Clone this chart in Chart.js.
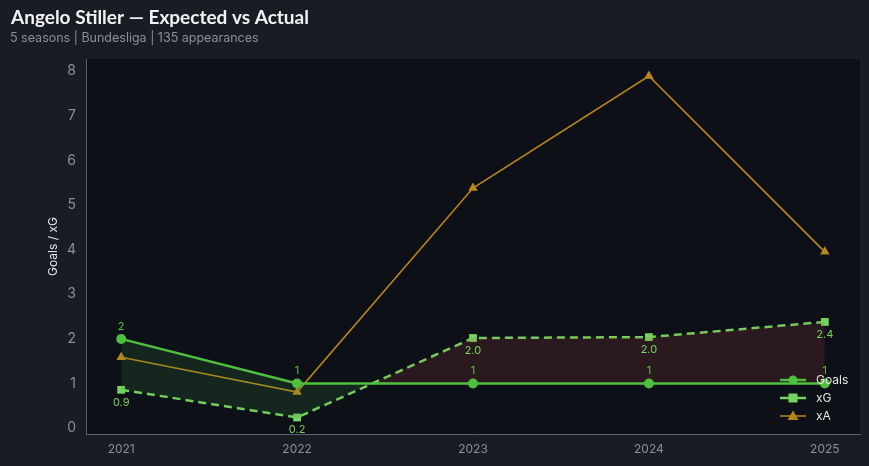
<!DOCTYPE html>
<html><head><meta charset="utf-8">
<script src="https://cdn.jsdelivr.net/npm/chart.js@4.4.1/dist/chart.umd.min.js"></script>
<style>html,body{margin:0;padding:0;background:#181c24;}#wrap{width:869px;height:466px;}</style>
</head><body><div id="wrap"><canvas id="c" width="869" height="466"></canvas></div>
<script>
const seasons = [2021, 2022, 2023, 2024, 2025];
const goals = [2, 1, 1, 1, 1];
const xg = [0.86, 0.24, 2.02, 2.04, 2.38];
const xa = [1.59, 0.81, 5.38, 7.89, 3.95];
const yTicks = [0, 1, 2, 3, 4, 5, 6, 7, 8];
const titleText = 'Angelo Stiller — Expected vs Actual';
const subtitleText = '5 seasons | Bundesliga | 135 appearances';

const C_GOALS = '#4fbf3f', C_XG = '#74d45e', C_XA = '#b8861c';

const pts = (arr) => arr.map((v, i) => ({x: seasons[i], y: v}));

const bgPlugin = {
  id: 'bg',
  beforeDraw(chart) {
    const {ctx, chartArea: a} = chart;
    ctx.save();
    ctx.fillStyle = '#181c24';
    ctx.fillRect(0, 0, chart.width, chart.height);
    ctx.fillStyle = '#0d1017';
    ctx.fillRect(a.left, a.top, a.right - a.left, a.bottom - a.top);
    ctx.textBaseline = 'alphabetic';
    ctx.fillStyle = '#f2f2f2';
    ctx.font = 'bold 19px Lato, "Noto Sans", sans-serif';
    ctx.fillText(titleText, 11, 24);
    ctx.fillStyle = '#8a8f99';
    ctx.font = '12.5px Inter, "Noto Sans", sans-serif';
    ctx.fillText(subtitleText, 10, 42);
    ctx.restore();
  }
};

const labelPlugin = {
  id: 'lbls',
  afterDatasetsDraw(chart) {
    const {ctx, scales: {x, y}} = chart;
    ctx.save();
    ctx.font = '11px Inter, "Noto Sans", sans-serif';
    ctx.textAlign = 'center';
    ctx.fillStyle = C_GOALS;
    ctx.textBaseline = 'bottom';
    goals.forEach((v, i) => ctx.fillText(String(v), x.getPixelForValue(seasons[i]), y.getPixelForValue(v) - 7));
    ctx.fillStyle = C_XG;
    ctx.textBaseline = 'top';
    xg.forEach((v, i) => ctx.fillText(v.toFixed(1), x.getPixelForValue(seasons[i]), y.getPixelForValue(v) + 7));
    ctx.restore();
  }
};

const legendPlugin = {
  id: 'customLegend',
  afterDraw(chart) {
    const {ctx} = chart;
    const items = [
      {label: 'Goals', color: C_GOALS, style: 'circle', w: 2.5},
      {label: 'xG', color: C_XG, style: 'rect', w: 2.5},
      {label: 'xA', color: C_XA, style: 'triangle', w: 1.5}
    ];
    ctx.save();
    ctx.font = '12px Inter, "Noto Sans", sans-serif';
    ctx.textBaseline = 'middle';
    items.forEach((it, i) => {
      const cy = 380 + i * 18, x0 = 780, x1 = 806, cx = 793;
      ctx.strokeStyle = it.color; ctx.fillStyle = it.color; ctx.lineWidth = it.w;
      ctx.beginPath(); ctx.moveTo(x0, cy); ctx.lineTo(x1, cy); ctx.stroke();
      ctx.beginPath();
      if (it.style === 'circle') ctx.arc(cx, cy, 4.5, 0, Math.PI * 2);
      else if (it.style === 'rect') ctx.rect(cx - 4.5, cy - 4.5, 9, 9);
      else { ctx.moveTo(cx, cy - 5.5); ctx.lineTo(cx + 5.5, cy + 4); ctx.lineTo(cx - 5.5, cy + 4); ctx.closePath(); }
      ctx.fill();
      ctx.fillStyle = '#e6e6e6';
      ctx.fillText(it.label, 816, cy);
    });
    ctx.restore();
  }
};

new Chart(document.getElementById('c'), {
  type: 'line',
  data: {
    datasets: [
      {label: 'Goals', data: pts(goals), borderColor: C_GOALS, backgroundColor: C_GOALS, borderWidth: 2.5,
       pointStyle: 'circle', pointRadius: 5, pointBackgroundColor: C_GOALS, pointBorderWidth: 0,
       fill: {target: 1, above: 'rgba(60,150,60,0.17)', below: 'rgba(190,70,70,0.17)'}, order: 1},
      {label: 'xG', data: pts(xg), borderColor: C_XG, backgroundColor: C_XG, borderWidth: 2.5, borderDash: [8, 5],
       pointStyle: 'rect', pointRadius: 5.5, pointBackgroundColor: C_XG, pointBorderWidth: 0, fill: false, order: 2},
      {label: 'xA', data: pts(xa), borderColor: C_XA, backgroundColor: C_XA, borderWidth: 1.6,
       pointStyle: 'triangle', pointRadius: 5.5, pointBackgroundColor: C_XA, pointBorderWidth: 0, fill: false, order: 3}
    ]
  },
  options: {
    responsive: false, animation: false, devicePixelRatio: 1,
    layout: {padding: {top: 59, right: 9, left: 46, bottom: 0}},
    plugins: {legend: {display: false}, title: {display: false}, tooltip: {enabled: false}},
    elements: {line: {tension: 0}},
    scales: {
      x: {type: 'linear', min: 2020.8, max: 2025.2,
          afterBuildTicks(s) { s.ticks = seasons.map(v => ({value: v})); },
          afterFit(s) { s.height = 32; },
          grid: {display: false, drawTicks: true, tickLength: 4, color: '#666b75'},
          border: {display: true, color: '#5b606a', width: 1},
          ticks: {color: '#8a8f99', font: {size: 12, family: 'Inter, "Noto Sans", sans-serif'}, padding: 4, callback: v => String(v)}},
      y: {type: 'linear', min: -0.13, max: 8.27,
          afterBuildTicks(s) { s.ticks = yTicks.map(v => ({value: v})); },
          afterFit(s) { s.width = 40; },
          title: {display: true, text: 'Goals / xG', color: '#e6e6e6', font: {size: 12, family: 'Inter, "Noto Sans", sans-serif'}, padding: 0},
          grid: {display: false, drawTicks: true, tickLength: 4, color: '#666b75'},
          border: {display: true, color: '#5b606a', width: 1},
          ticks: {color: '#8a8f99', font: {size: 14, family: 'Inter, "Noto Sans", sans-serif'}, padding: 6}}
    }
  },
  plugins: [bgPlugin, labelPlugin, legendPlugin]
});
</script></body></html>
